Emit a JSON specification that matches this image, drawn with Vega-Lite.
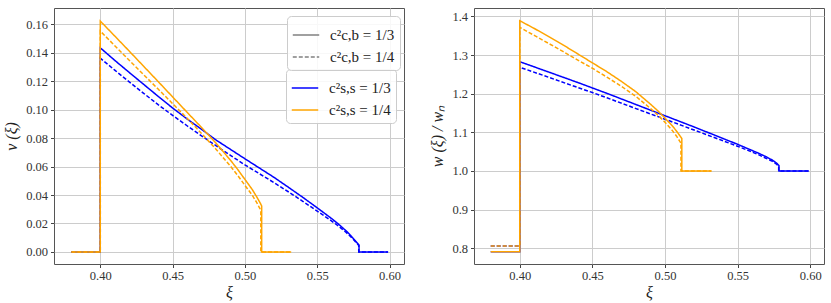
{
  "$schema": "https://vega.github.io/schema/vega-lite/v6.json",
  "background": "white",
  "padding": {"left": 3, "top": 7, "right": 2, "bottom": 2},
  "bounds": "flush",
  "spacing": 70,
  "config": {
    "font": "Liberation Serif",
    "view": {"stroke": "#555555", "strokeWidth": 1},
    "axis": {
      "labelFont": "Liberation Serif", "labelFontSize": 12.5, "labelColor": "#333333",
      "titleFont": "Liberation Serif", "titleFontSize": 16, "titleFontWeight": "normal", "titleFontStyle": "italic", "titleColor": "#222222",
      "gridColor": "#cccccc", "gridWidth": 1, "domain": false,
      "tickColor": "#444444", "tickSize": 3.5
    },
    "axisX": {"labelPadding": 1.5, "titlePadding": 3},
    "axisY": {"labelPadding": 3, "titlePadding": 6},
    "legend": {
      "labelFont": "Liberation Serif", "labelFontSize": 15, "labelColor": "#222222",
      "fillColor": "rgba(255,255,255,0.85)", "strokeColor": "#cccccc", "cornerRadius": 4,
      "padding": 5, "symbolType": "stroke", "symbolStrokeWidth": 1.5, "labelOffset": 10
    }
  },
  "datasets": {
    "v": [
      {"ss":"1/3","cb":"1/3","i":0,"xi":0.38,"y":0},
      {"ss":"1/3","cb":"1/3","i":1,"xi":0.40,"y":0},
      {"ss":"1/3","cb":"1/3","i":2,"xi":0.40,"y":0.1435},
      {"ss":"1/3","cb":"1/3","i":3,"xi":0.41,"y":0.1347},
      {"ss":"1/3","cb":"1/3","i":4,"xi":0.42,"y":0.1262},
      {"ss":"1/3","cb":"1/3","i":5,"xi":0.43,"y":0.1178},
      {"ss":"1/3","cb":"1/3","i":6,"xi":0.44,"y":0.1094},
      {"ss":"1/3","cb":"1/3","i":7,"xi":0.45,"y":0.1012},
      {"ss":"1/3","cb":"1/3","i":8,"xi":0.46,"y":0.0935},
      {"ss":"1/3","cb":"1/3","i":9,"xi":0.47,"y":0.0862},
      {"ss":"1/3","cb":"1/3","i":10,"xi":0.48,"y":0.0787},
      {"ss":"1/3","cb":"1/3","i":11,"xi":0.49,"y":0.0721},
      {"ss":"1/3","cb":"1/3","i":12,"xi":0.50,"y":0.0655},
      {"ss":"1/3","cb":"1/3","i":13,"xi":0.51,"y":0.0590},
      {"ss":"1/3","cb":"1/3","i":14,"xi":0.52,"y":0.0525},
      {"ss":"1/3","cb":"1/3","i":15,"xi":0.53,"y":0.0455},
      {"ss":"1/3","cb":"1/3","i":16,"xi":0.54,"y":0.0384},
      {"ss":"1/3","cb":"1/3","i":17,"xi":0.55,"y":0.0310},
      {"ss":"1/3","cb":"1/3","i":18,"xi":0.56,"y":0.0234},
      {"ss":"1/3","cb":"1/3","i":19,"xi":0.565,"y":0.0193},
      {"ss":"1/3","cb":"1/3","i":20,"xi":0.57,"y":0.0148},
      {"ss":"1/3","cb":"1/3","i":21,"xi":0.573,"y":0.0117},
      {"ss":"1/3","cb":"1/3","i":22,"xi":0.5755,"y":0.0088},
      {"ss":"1/3","cb":"1/3","i":23,"xi":0.5775,"y":0.0065},
      {"ss":"1/3","cb":"1/3","i":24,"xi":0.5789,"y":0.0048},
      {"ss":"1/3","cb":"1/3","i":25,"xi":0.5789,"y":0},
      {"ss":"1/3","cb":"1/3","i":26,"xi":0.599,"y":0},

      {"ss":"1/3","cb":"1/4","i":0,"xi":0.38,"y":0},
      {"ss":"1/3","cb":"1/4","i":1,"xi":0.40,"y":0},
      {"ss":"1/3","cb":"1/4","i":2,"xi":0.40,"y":0.1362},
      {"ss":"1/3","cb":"1/4","i":3,"xi":0.41,"y":0.1278},
      {"ss":"1/3","cb":"1/4","i":4,"xi":0.42,"y":0.1196},
      {"ss":"1/3","cb":"1/4","i":5,"xi":0.43,"y":0.1115},
      {"ss":"1/3","cb":"1/4","i":6,"xi":0.44,"y":0.1035},
      {"ss":"1/3","cb":"1/4","i":7,"xi":0.45,"y":0.0960},
      {"ss":"1/3","cb":"1/4","i":8,"xi":0.46,"y":0.0887},
      {"ss":"1/3","cb":"1/4","i":9,"xi":0.47,"y":0.0816},
      {"ss":"1/3","cb":"1/4","i":10,"xi":0.48,"y":0.0747},
      {"ss":"1/3","cb":"1/4","i":11,"xi":0.49,"y":0.0679},
      {"ss":"1/3","cb":"1/4","i":12,"xi":0.50,"y":0.0612},
      {"ss":"1/3","cb":"1/4","i":13,"xi":0.51,"y":0.0550},
      {"ss":"1/3","cb":"1/4","i":14,"xi":0.52,"y":0.0488},
      {"ss":"1/3","cb":"1/4","i":15,"xi":0.53,"y":0.0423},
      {"ss":"1/3","cb":"1/4","i":16,"xi":0.54,"y":0.0356},
      {"ss":"1/3","cb":"1/4","i":17,"xi":0.55,"y":0.0287},
      {"ss":"1/3","cb":"1/4","i":18,"xi":0.56,"y":0.0217},
      {"ss":"1/3","cb":"1/4","i":19,"xi":0.565,"y":0.0179},
      {"ss":"1/3","cb":"1/4","i":20,"xi":0.57,"y":0.0137},
      {"ss":"1/3","cb":"1/4","i":21,"xi":0.573,"y":0.0108},
      {"ss":"1/3","cb":"1/4","i":22,"xi":0.5755,"y":0.0082},
      {"ss":"1/3","cb":"1/4","i":23,"xi":0.5775,"y":0.0060},
      {"ss":"1/3","cb":"1/4","i":24,"xi":0.5787,"y":0.0045},
      {"ss":"1/3","cb":"1/4","i":25,"xi":0.5787,"y":0},
      {"ss":"1/3","cb":"1/4","i":26,"xi":0.599,"y":0},

      {"ss":"1/4","cb":"1/3","i":0,"xi":0.38,"y":0},
      {"ss":"1/4","cb":"1/3","i":1,"xi":0.40,"y":0},
      {"ss":"1/4","cb":"1/3","i":2,"xi":0.40,"y":0.1623},
      {"ss":"1/4","cb":"1/3","i":3,"xi":0.41,"y":0.1518},
      {"ss":"1/4","cb":"1/3","i":4,"xi":0.42,"y":0.1412},
      {"ss":"1/4","cb":"1/3","i":5,"xi":0.43,"y":0.1305},
      {"ss":"1/4","cb":"1/3","i":6,"xi":0.44,"y":0.1198},
      {"ss":"1/4","cb":"1/3","i":7,"xi":0.45,"y":0.1090},
      {"ss":"1/4","cb":"1/3","i":8,"xi":0.46,"y":0.0982},
      {"ss":"1/4","cb":"1/3","i":9,"xi":0.47,"y":0.0875},
      {"ss":"1/4","cb":"1/3","i":10,"xi":0.48,"y":0.0765},
      {"ss":"1/4","cb":"1/3","i":11,"xi":0.49,"y":0.0645},
      {"ss":"1/4","cb":"1/3","i":12,"xi":0.495,"y":0.0580},
      {"ss":"1/4","cb":"1/3","i":13,"xi":0.50,"y":0.0510},
      {"ss":"1/4","cb":"1/3","i":14,"xi":0.505,"y":0.0440},
      {"ss":"1/4","cb":"1/3","i":15,"xi":0.508,"y":0.0390},
      {"ss":"1/4","cb":"1/3","i":16,"xi":0.5105,"y":0.0345},
      {"ss":"1/4","cb":"1/3","i":17,"xi":0.5116,"y":0.0323},
      {"ss":"1/4","cb":"1/3","i":18,"xi":0.5116,"y":0},
      {"ss":"1/4","cb":"1/3","i":19,"xi":0.532,"y":0},

      {"ss":"1/4","cb":"1/4","i":0,"xi":0.38,"y":0},
      {"ss":"1/4","cb":"1/4","i":1,"xi":0.40,"y":0},
      {"ss":"1/4","cb":"1/4","i":2,"xi":0.40,"y":0.1553},
      {"ss":"1/4","cb":"1/4","i":3,"xi":0.41,"y":0.1450},
      {"ss":"1/4","cb":"1/4","i":4,"xi":0.42,"y":0.1348},
      {"ss":"1/4","cb":"1/4","i":5,"xi":0.43,"y":0.1246},
      {"ss":"1/4","cb":"1/4","i":6,"xi":0.44,"y":0.1145},
      {"ss":"1/4","cb":"1/4","i":7,"xi":0.45,"y":0.1043},
      {"ss":"1/4","cb":"1/4","i":8,"xi":0.46,"y":0.0940},
      {"ss":"1/4","cb":"1/4","i":9,"xi":0.47,"y":0.0833},
      {"ss":"1/4","cb":"1/4","i":10,"xi":0.48,"y":0.0722},
      {"ss":"1/4","cb":"1/4","i":11,"xi":0.49,"y":0.0603},
      {"ss":"1/4","cb":"1/4","i":12,"xi":0.495,"y":0.0538},
      {"ss":"1/4","cb":"1/4","i":13,"xi":0.50,"y":0.0468},
      {"ss":"1/4","cb":"1/4","i":14,"xi":0.505,"y":0.0400},
      {"ss":"1/4","cb":"1/4","i":15,"xi":0.508,"y":0.0350},
      {"ss":"1/4","cb":"1/4","i":16,"xi":0.510,"y":0.0312},
      {"ss":"1/4","cb":"1/4","i":17,"xi":0.511,"y":0.0293},
      {"ss":"1/4","cb":"1/4","i":18,"xi":0.511,"y":0},
      {"ss":"1/4","cb":"1/4","i":19,"xi":0.532,"y":0}
    ],
    "w": [
      {"ss":"1/3","cb":"1/3","i":0,"xi":0.38,"y":0.791},
      {"ss":"1/3","cb":"1/3","i":1,"xi":0.40,"y":0.791},
      {"ss":"1/3","cb":"1/3","i":2,"xi":0.40,"y":1.283},
      {"ss":"1/3","cb":"1/3","i":3,"xi":0.42,"y":1.256},
      {"ss":"1/3","cb":"1/3","i":4,"xi":0.44,"y":1.229},
      {"ss":"1/3","cb":"1/3","i":5,"xi":0.45,"y":1.215},
      {"ss":"1/3","cb":"1/3","i":6,"xi":0.46,"y":1.201},
      {"ss":"1/3","cb":"1/3","i":7,"xi":0.48,"y":1.172},
      {"ss":"1/3","cb":"1/3","i":8,"xi":0.50,"y":1.143},
      {"ss":"1/3","cb":"1/3","i":9,"xi":0.52,"y":1.114},
      {"ss":"1/3","cb":"1/3","i":10,"xi":0.54,"y":1.084},
      {"ss":"1/3","cb":"1/3","i":11,"xi":0.55,"y":1.069},
      {"ss":"1/3","cb":"1/3","i":12,"xi":0.56,"y":1.053},
      {"ss":"1/3","cb":"1/3","i":13,"xi":0.565,"y":1.045},
      {"ss":"1/3","cb":"1/3","i":14,"xi":0.57,"y":1.036},
      {"ss":"1/3","cb":"1/3","i":15,"xi":0.574,"y":1.028},
      {"ss":"1/3","cb":"1/3","i":16,"xi":0.577,"y":1.020},
      {"ss":"1/3","cb":"1/3","i":17,"xi":0.5785,"y":1.014},
      {"ss":"1/3","cb":"1/3","i":18,"xi":0.5785,"y":1.0},
      {"ss":"1/3","cb":"1/3","i":19,"xi":0.599,"y":1.0},

      {"ss":"1/3","cb":"1/4","i":0,"xi":0.38,"y":0.8055},
      {"ss":"1/3","cb":"1/4","i":1,"xi":0.40,"y":0.8055},
      {"ss":"1/3","cb":"1/4","i":2,"xi":0.40,"y":1.2686},
      {"ss":"1/3","cb":"1/4","i":3,"xi":0.42,"y":1.2425},
      {"ss":"1/3","cb":"1/4","i":4,"xi":0.44,"y":1.216},
      {"ss":"1/3","cb":"1/4","i":5,"xi":0.45,"y":1.203},
      {"ss":"1/3","cb":"1/4","i":6,"xi":0.46,"y":1.1895},
      {"ss":"1/3","cb":"1/4","i":7,"xi":0.48,"y":1.1615},
      {"ss":"1/3","cb":"1/4","i":8,"xi":0.50,"y":1.134},
      {"ss":"1/3","cb":"1/4","i":9,"xi":0.52,"y":1.106},
      {"ss":"1/3","cb":"1/4","i":10,"xi":0.54,"y":1.078},
      {"ss":"1/3","cb":"1/4","i":11,"xi":0.55,"y":1.064},
      {"ss":"1/3","cb":"1/4","i":12,"xi":0.56,"y":1.049},
      {"ss":"1/3","cb":"1/4","i":13,"xi":0.565,"y":1.041},
      {"ss":"1/3","cb":"1/4","i":14,"xi":0.57,"y":1.032},
      {"ss":"1/3","cb":"1/4","i":15,"xi":0.574,"y":1.025},
      {"ss":"1/3","cb":"1/4","i":16,"xi":0.577,"y":1.017},
      {"ss":"1/3","cb":"1/4","i":17,"xi":0.5783,"y":1.012},
      {"ss":"1/3","cb":"1/4","i":18,"xi":0.5783,"y":1.0},
      {"ss":"1/3","cb":"1/4","i":19,"xi":0.599,"y":1.0},

      {"ss":"1/4","cb":"1/3","i":0,"xi":0.38,"y":0.791},
      {"ss":"1/4","cb":"1/3","i":1,"xi":0.40,"y":0.791},
      {"ss":"1/4","cb":"1/3","i":2,"xi":0.40,"y":1.389},
      {"ss":"1/4","cb":"1/3","i":3,"xi":0.41,"y":1.369},
      {"ss":"1/4","cb":"1/3","i":4,"xi":0.42,"y":1.348},
      {"ss":"1/4","cb":"1/3","i":5,"xi":0.43,"y":1.326},
      {"ss":"1/4","cb":"1/3","i":6,"xi":0.44,"y":1.303},
      {"ss":"1/4","cb":"1/3","i":7,"xi":0.45,"y":1.280},
      {"ss":"1/4","cb":"1/3","i":8,"xi":0.46,"y":1.257},
      {"ss":"1/4","cb":"1/3","i":9,"xi":0.47,"y":1.232},
      {"ss":"1/4","cb":"1/3","i":10,"xi":0.48,"y":1.205},
      {"ss":"1/4","cb":"1/3","i":11,"xi":0.49,"y":1.173},
      {"ss":"1/4","cb":"1/3","i":12,"xi":0.495,"y":1.156},
      {"ss":"1/4","cb":"1/3","i":13,"xi":0.50,"y":1.137},
      {"ss":"1/4","cb":"1/3","i":14,"xi":0.505,"y":1.117},
      {"ss":"1/4","cb":"1/3","i":15,"xi":0.508,"y":1.103},
      {"ss":"1/4","cb":"1/3","i":16,"xi":0.5105,"y":1.090},
      {"ss":"1/4","cb":"1/3","i":17,"xi":0.5116,"y":1.084},
      {"ss":"1/4","cb":"1/3","i":18,"xi":0.5116,"y":1.0},
      {"ss":"1/4","cb":"1/3","i":19,"xi":0.532,"y":1.0},

      {"ss":"1/4","cb":"1/4","i":0,"xi":0.38,"y":0.8055},
      {"ss":"1/4","cb":"1/4","i":1,"xi":0.40,"y":0.8055},
      {"ss":"1/4","cb":"1/4","i":2,"xi":0.40,"y":1.372},
      {"ss":"1/4","cb":"1/4","i":3,"xi":0.41,"y":1.351},
      {"ss":"1/4","cb":"1/4","i":4,"xi":0.42,"y":1.330},
      {"ss":"1/4","cb":"1/4","i":5,"xi":0.43,"y":1.309},
      {"ss":"1/4","cb":"1/4","i":6,"xi":0.44,"y":1.287},
      {"ss":"1/4","cb":"1/4","i":7,"xi":0.45,"y":1.266},
      {"ss":"1/4","cb":"1/4","i":8,"xi":0.46,"y":1.243},
      {"ss":"1/4","cb":"1/4","i":9,"xi":0.47,"y":1.219},
      {"ss":"1/4","cb":"1/4","i":10,"xi":0.48,"y":1.193},
      {"ss":"1/4","cb":"1/4","i":11,"xi":0.49,"y":1.162},
      {"ss":"1/4","cb":"1/4","i":12,"xi":0.495,"y":1.145},
      {"ss":"1/4","cb":"1/4","i":13,"xi":0.50,"y":1.126},
      {"ss":"1/4","cb":"1/4","i":14,"xi":0.505,"y":1.105},
      {"ss":"1/4","cb":"1/4","i":15,"xi":0.508,"y":1.090},
      {"ss":"1/4","cb":"1/4","i":16,"xi":0.510,"y":1.078},
      {"ss":"1/4","cb":"1/4","i":17,"xi":0.511,"y":1.072},
      {"ss":"1/4","cb":"1/4","i":18,"xi":0.511,"y":1.0},
      {"ss":"1/4","cb":"1/4","i":19,"xi":0.532,"y":1.0}
    ]
  },
  "resolve": {
    "scale": {"color": "independent", "strokeDash": "independent"},
    "legend": {"color": "independent", "strokeDash": "independent"}
  },
  "hconcat": [
    {
      "width": 350,
      "height": 256,
      "data": {"name": "v"},
      "mark": {"type": "line", "strokeWidth": 1.5},
      "encoding": {
        "x": {"field": "xi", "type": "quantitative",
              "scale": {"domain": [0.368, 0.610], "nice": false, "zero": false},
              "axis": {"values": [0.40, 0.45, 0.50, 0.55, 0.60], "format": ".2f", "title": "ξ"}},
        "y": {"field": "y", "type": "quantitative",
              "scale": {"domain": [-0.0085, 0.1715], "nice": false, "zero": false},
              "axis": {"values": [0, 0.02, 0.04, 0.06, 0.08, 0.10, 0.12, 0.14, 0.16], "format": ".2f", "title": "v (ξ)"}},
        "color": {"field": "ss", "type": "nominal",
                  "scale": {"domain": ["1/3", "1/4"], "range": ["#0000ff", "#ffa500"]},
                  "legend": {"title": null, "orient": "none", "legendX": 232, "legendY": 61,
                             "labelExpr": "'c²s,s = ' + datum.label",
                             "symbolSize": 700, "symbolDash": [1, 0], "rowPadding": 0}},
        "strokeDash": {"field": "cb", "type": "nominal",
                       "scale": {"range": [[1, 0], [4, 2]]},
                       "legend": {"title": null, "orient": "none", "legendX": 233, "legendY": 8,
                                  "labelExpr": "'c²c,b = ' + datum.label",
                                  "symbolStrokeColor": "#808080", "symbolSize": 700, "rowPadding": 0}},
        "order": {"field": "i", "type": "quantitative"}
      }
    },
    {
      "width": 350,
      "height": 256,
      "data": {"name": "w"},
      "mark": {"type": "line", "strokeWidth": 1.5},
      "encoding": {
        "x": {"field": "xi", "type": "quantitative",
              "scale": {"domain": [0.3685, 0.6095], "nice": false, "zero": false},
              "axis": {"values": [0.40, 0.45, 0.50, 0.55, 0.60], "format": ".2f", "title": "ξ"}},
        "y": {"field": "y", "type": "quantitative",
              "scale": {"domain": [0.759, 1.422], "nice": false, "zero": false},
              "axis": {"values": [0.8, 0.9, 1.0, 1.1, 1.2, 1.3, 1.4], "format": ".1f", "title": "w (ξ) / wₙ"}},
        "color": {"field": "ss", "type": "nominal",
                  "scale": {"domain": ["1/3", "1/4"], "range": ["#0000ff", "#ffa500"]},
                  "legend": null},
        "strokeDash": {"field": "cb", "type": "nominal",
                       "scale": {"range": [[1, 0], [4, 2]]},
                       "legend": null},
        "order": {"field": "i", "type": "quantitative"}
      }
    }
  ]
}
